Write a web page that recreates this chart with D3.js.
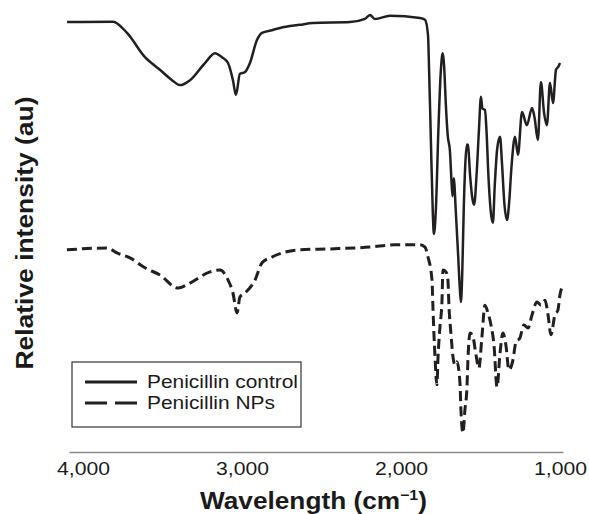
<!DOCTYPE html>
<html>
<head>
<meta charset="utf-8">
<script src="https://cdn.jsdelivr.net/npm/d3@7"></script>
<style>
    body { margin: 0; background: #fff; }
    svg { display: block; font-family: "Liberation Sans", Arial, sans-serif; }
</style>
</head>
<body>
<div id="graphContainer"></div>
<script>
"use strict";

// Data (wavenumber in cm-1, relative intensity in au)
const controlWn = [4100, 3811, 3723, 3610, 3516, 3440, 3390, 3327, 3233, 3170, 3126, 3088, 3057, 3038, 3013, 2981, 2950, 2906, 2874, 2811, 2761, 2635, 2554, 2321, 2227, 2195, 2164, 2069, 1881, 1849, 1830, 1825, 1812, 1800, 1793, 1780, 1765, 1750, 1740, 1736, 1728, 1718, 1706, 1692, 1684, 1676, 1668, 1655, 1640, 1630, 1623, 1615, 1605, 1595, 1585, 1579, 1565, 1553, 1540, 1525, 1510, 1497, 1488, 1472, 1462, 1450, 1435, 1422, 1410, 1395, 1377, 1365, 1350, 1333, 1320, 1305, 1283, 1264, 1239, 1208, 1176, 1160, 1139, 1120, 1100, 1082, 1063, 1044, 1025, 1010, 1000];
const controlVal = [96.2, 96.3, 93.8, 88.4, 85.6, 83.3, 82.2, 83.3, 87.1, 89.3, 88.4, 87.1, 83.3, 80.0, 84.7, 85.1, 87.1, 92.2, 93.8, 94.4, 94.9, 95.6, 96.0, 96.2, 96.9, 97.8, 96.9, 97.6, 97.1, 96.7, 93.3, 88.0, 70.0, 54.0, 49.1, 55.0, 72.0, 85.0, 89.0, 89.3, 86.0, 78.0, 71.0, 67.5, 62.0, 57.5, 61.5, 54.0, 44.0, 37.0, 34.0, 40.0, 55.0, 65.0, 69.0, 68.9, 62.0, 57.5, 55.6, 62.0, 72.0, 79.6, 77.0, 76.7, 72.0, 62.0, 54.0, 51.6, 60.0, 68.0, 70.7, 65.0, 56.0, 52.2, 56.0, 64.0, 70.7, 66.7, 76.2, 73.3, 77.1, 75.0, 70.0, 82.9, 76.0, 73.3, 82.7, 78.2, 85.6, 86.3, 87.1];

const npWn = [4101, 3849, 3786, 3704, 3610, 3516, 3403, 3327, 3201, 3138, 3088, 3057, 3031, 3013, 2981, 2918, 2874, 2811, 2635, 2447, 2195, 2038, 1881, 1849, 1830, 1805, 1799, 1793, 1786, 1774, 1767, 1755, 1742, 1736, 1717, 1705, 1698, 1686, 1673, 1660, 1648, 1629, 1623, 1610, 1598, 1585, 1579, 1566, 1547, 1528, 1510, 1491, 1472, 1453, 1434, 1415, 1396, 1377, 1359, 1340, 1321, 1296, 1277, 1252, 1227, 1201, 1176, 1145, 1120, 1094, 1075, 1057, 1032, 1013, 1000, 981];
const npVal = [45.6, 46.0, 44.9, 43.8, 41.6, 40.0, 37.1, 38.2, 40.7, 41.1, 38.9, 36.0, 31.6, 35.1, 36.0, 38.9, 42.7, 44.0, 45.6, 45.8, 46.2, 46.7, 46.7, 46.2, 44.0, 38.9, 32.9, 27.1, 21.8, 15.6, 21.8, 28.4, 34.4, 41.1, 40.7, 38.9, 32.9, 27.1, 21.8, 20.0, 20.7, 16.0, 10.0, 4.9, 10.0, 15.1, 21.1, 27.1, 26.2, 22.2, 19.3, 26.2, 33.3, 31.6, 28.9, 24.4, 15.1, 22.7, 27.1, 24.4, 18.9, 21.1, 25.1, 26.0, 28.9, 28.2, 31.1, 34.0, 33.3, 34.4, 31.1, 26.7, 31.1, 32.2, 35.6, 37.8];

const seriesNames = ["Penicillin control", "Penicillin NPs"];
const tickValues = [4000, 3000, 2000, 1000];

const width = 589;
const height = 514;

// Scales
const x = d3.scaleLinear()
    .domain([4088, 981])
    .range([69, 563]);

const y = d3.scaleLinear()
    .domain([0, 100])
    .range([455, 5]);

const svg = d3.select("#graphContainer")
    .append("svg")
    .attr("width", width)
    .attr("height", height);

// X axis (no tick marks, grey base line)
const xAxis = svg.append("g")
    .attr("transform", "translate(0,452)")
    .call(d3.axisBottom(x)
        .tickValues(tickValues)
        .tickFormat(d3.format(","))
        .tickSize(0)
        .tickPadding(10));

xAxis.select(".domain")
    .attr("stroke", "#8a8a8a")
    .attr("stroke-width", 1.4);

xAxis.selectAll("text")
    .attr("font-size", 18.5)
    .attr("font-family", "'Liberation Sans', Arial, sans-serif")
    .attr("fill", "#1a1a1a")
    .attr("textLength", 53)
    .attr("lengthAdjust", "spacingAndGlyphs");

// Lines
const line = d3.line()
    .x(d => x(d[0]))
    .y(d => y(d[1]))
    .curve(d3.curveMonotoneX);

const controlData = controlWn.map((w, i) => [w, controlVal[i]]);
const npData = npWn.map((w, i) => [w, npVal[i]]);

svg.append("path")
    .datum(controlData)
    .attr("fill", "none")
    .attr("stroke", "#231f20")
    .attr("stroke-width", 2.5)
    .attr("stroke-linejoin", "round")
    .attr("d", line);

svg.append("path")
    .datum(npData)
    .attr("fill", "none")
    .attr("stroke", "#231f20")
    .attr("stroke-width", 3)
    .attr("stroke-dasharray", "10,5")
    .attr("d", line);

// Axis titles
const xTitle = svg.append("text")
    .attr("x", 200)
    .attr("y", 509)
    .attr("font-size", 23)
    .attr("font-weight", "bold")
    .attr("fill", "#1a1a1a")
    .attr("textLength", 227)
    .attr("lengthAdjust", "spacingAndGlyphs")
    .text("Wavelength (cm");
xTitle.append("tspan")
    .attr("dy", -9)
    .attr("font-size", 14)
    .text("\u22121");
xTitle.append("tspan")
    .attr("dy", 9)
    .text(")");

svg.append("text")
    .attr("transform", "translate(33,233) rotate(-90)")
    .attr("text-anchor", "middle")
    .attr("font-size", 23)
    .attr("font-weight", "bold")
    .attr("fill", "#1a1a1a")
    .attr("textLength", 273)
    .attr("lengthAdjust", "spacingAndGlyphs")
    .text("Relative intensity (au)");

// Legend
const legend = svg.append("g");

legend.append("rect")
    .attr("x", 72)
    .attr("y", 362)
    .attr("width", 229)
    .attr("height", 65)
    .attr("fill", "#fff")
    .attr("stroke", "#333")
    .attr("stroke-width", 1.2);

const legendTextLength = [151, 128];

seriesNames.forEach((name, i) => {
    const ly = 382 + i * 21;
    legend.append("line")
        .attr("x1", 85)
        .attr("x2", 137)
        .attr("y1", ly)
        .attr("y2", ly)
        .attr("stroke", "#231f20")
        .attr("stroke-width", 3)
        .attr("stroke-dasharray", i === 0 ? null : "22,8");
    legend.append("text")
        .attr("x", 147)
        .attr("y", ly + 6)
        .attr("font-size", 18)
        .attr("fill", "#1a1a1a")
        .attr("textLength", legendTextLength[i])
        .attr("lengthAdjust", "spacingAndGlyphs")
        .text(name);
});
</script>
</body>
</html>
